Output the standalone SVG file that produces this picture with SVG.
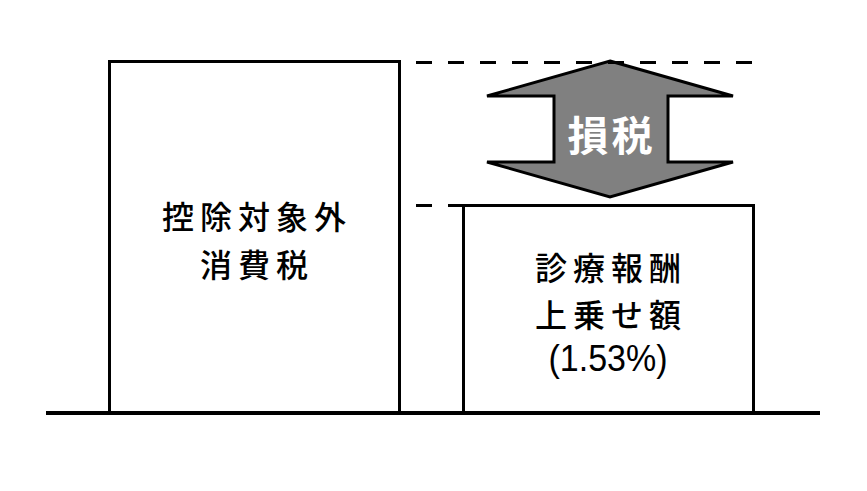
<svg xmlns="http://www.w3.org/2000/svg" width="867" height="491" viewBox="0 0 867 491">
<style>
.box{fill:#fff;stroke:#000;stroke-width:3}
.dash{stroke:#000;stroke-width:3;stroke-dasharray:16 16;fill:none}
.base{stroke:#000;stroke-width:4;fill:none}
.arrow{fill:#808080;stroke:#000;stroke-width:3;stroke-linejoin:miter}
.t{font-family:"Noto Sans CJK JP","Noto Sans",sans-serif;font-size:32px;font-weight:500;fill:#000;text-anchor:middle;dominant-baseline:central;letter-spacing:6px}
.w{font-family:"Noto Sans CJK JP","Noto Sans",sans-serif;font-size:41px;font-weight:bold;fill:#fff;text-anchor:middle;dominant-baseline:central;letter-spacing:3px}
.n{font-family:"Liberation Sans","Noto Sans",sans-serif;font-size:37px;fill:#000;text-anchor:middle;dominant-baseline:central}
</style>
<rect width="867" height="491" fill="#fff"/>
<g id="left-box">
<rect class="box" x="109.5" y="61.5" width="290" height="351.5"/>
<text class="t" x="257" y="215">控除対象外</text>
<text class="t" x="257" y="263">消費税</text>
</g>
<g id="right-box">
<rect class="box" x="463.5" y="205.5" width="290" height="207.5"/>
<text class="t" x="611" y="266">診療報酬</text>
<text class="t" x="611" y="313">上乗せ額</text>
<text class="n" x="608" y="358" textLength="119" lengthAdjust="spacingAndGlyphs">(1.53%)</text>
</g>
<g id="arrow">
<polygon class="arrow" points="610,61 733,96 668,96 668,162 733,162 610,197 487,162 554,162 554,96 487,96"/>
<text class="w" x="611.5" y="133">損税</text>
</g>
<g id="connectors">
<line class="dash" x1="416" y1="62.5" x2="752" y2="62.5"/>
<line class="dash" x1="416" y1="205.5" x2="464" y2="205.5"/>
<line class="base" x1="46" y1="413" x2="820" y2="413"/>
</g>
</svg>
